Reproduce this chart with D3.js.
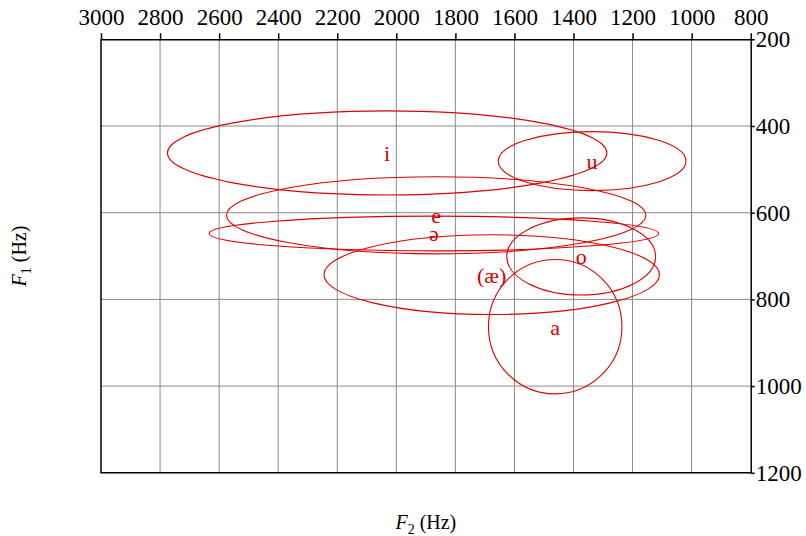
<!DOCTYPE html>
<html>
<head>
<meta charset="utf-8">
<script src="https://cdn.jsdelivr.net/npm/d3@7"></script>
<style>
  body { margin: 0; background: #fff; }
  svg { font-family: "Liberation Serif", "DejaVu Serif", serif; }
  .grid line { stroke: #8a8a8a; stroke-width: 1; }
  .vowel { fill: none; stroke: #e00000; stroke-width: 1.1; }
  .vlabel { fill: #d40000; font-size: 22px; text-anchor: middle; }
</style>
</head>
<body>
<script>
// vowel formant regions: centre and half-width (Hz)
const vowels   = ['i', 'u', 'e', 'ə', '(æ)', 'o', 'a']
const f2Mean   = [2031, 1337, 1865, 1873, 1677, 1374, 1462]
const f1Mean   = [462, 481, 606, 648, 743, 701, 863]
const f2Spread = [744, 318, 710, 761, 568, 252, 226]
const f1Spread = [97, 68, 89, 40, 92, 89, 155]

const f2Ticks = [3000, 2800, 2600, 2400, 2200, 2000, 1800, 1600, 1400, 1200, 1000, 800]
const f1Ticks = [200, 400, 600, 800, 1000, 1200]

const W = 806, H = 536

let svg = d3.select('body').append('svg')
.attr('width', W)
.attr('height', H)

let x = d3.scaleLinear().domain([3000, 800]).range([101, 750.7])
let y = d3.scaleLinear().domain([200, 1200]).range([39.3, 472.8])

// grid
let grid = svg.append('g').attr('class', 'grid')
grid.selectAll('.gx')
.data(f2Ticks.slice(1, -1))
.enter()
.append('line')
.attr('x1', d => x(d)).attr('x2', d => x(d))
.attr('y1', y(200)).attr('y2', y(1200))

grid.selectAll('.gy')
.data(f1Ticks.slice(1, -1))
.enter()
.append('line')
.attr('x1', x(3000)).attr('x2', x(800))
.attr('y1', d => y(d)).attr('y2', d => y(d))

// frame (left + bottom)
svg.append('path')
.attr('d', `M${x(3000)},${y(200)}V${y(1200)}H${x(800)}`)
.attr('fill', 'none')
.attr('stroke', '#000')
.attr('stroke-width', 1.5)

function styleAxis(g) {
  g.selectAll('path, line').attr('stroke', '#000').attr('stroke-width', 1.5)
  g.selectAll('text')
  .style('font-family', '"Liberation Serif", "Times New Roman", serif')
  .style('font-size', '23px')
  .attr('fill', '#000')
}

// axes
svg.append('g')
.attr('transform', `translate(0,${y(200)})`)
.call(d3.axisTop(x).tickValues(f2Ticks).tickSize(6).tickSizeOuter(0).tickPadding(8).tickFormat(d3.format('d')))
.call(styleAxis)

svg.append('g')
.attr('transform', `translate(${x(800)},0)`)
.call(d3.axisRight(y).tickValues(f1Ticks).tickSize(4).tickSizeOuter(0).tickPadding(1).tickFormat(d3.format('d')))
.call(styleAxis)

// vowel ellipses
let data = vowels.map((v, i) => ({
  v, f2: f2Mean[i], f1: f1Mean[i], s2: f2Spread[i], s1: f1Spread[i]
}))

svg.append('g').selectAll('ellipse')
.data(data)
.enter()
.append('ellipse')
.attr('class', 'vowel')
.attr('cx', d => x(d.f2))
.attr('cy', d => y(d.f1))
.attr('rx', d => Math.abs(x(d.f2 - d.s2) - x(d.f2)))
.attr('ry', d => Math.abs(y(d.f1 + d.s1) - y(d.f1)))

svg.append('g').selectAll('text')
.data(data)
.enter()
.append('text')
.attr('class', 'vlabel')
.attr('x', d => x(d.f2))
.attr('y', d => y(d.f1))
.attr('dy', '0.36em')
.text(d => d.v)

// axis titles
function title(sel, sub) {
  sel.append('tspan').attr('font-style', 'italic').text('F')
  sel.append('tspan').attr('font-size', 14).attr('dy', 5).text(sub)
  sel.append('tspan').attr('dy', -5).text(' (Hz)')
}

let xt = svg.append('text')
.attr('x', (x(3000) + x(800)) / 2)
.attr('y', 529)
.attr('text-anchor', 'middle')
.attr('font-size', 20)
title(xt, '2')

let yt = svg.append('text')
.attr('transform', `translate(26,${(y(200) + y(1200)) / 2}) rotate(-90)`)
.attr('text-anchor', 'middle')
.attr('font-size', 20)
title(yt, '1')
</script>
</body>
</html>
